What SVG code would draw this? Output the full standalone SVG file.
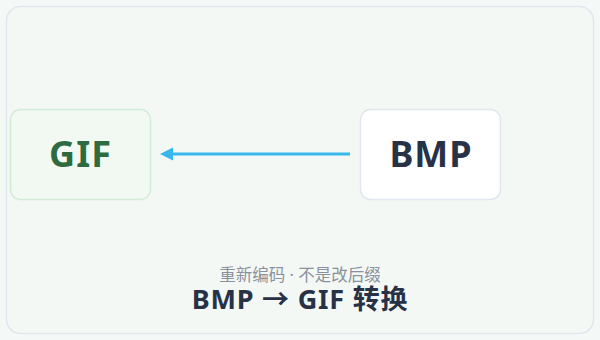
<svg xmlns="http://www.w3.org/2000/svg" width="600" height="340" viewBox="0 0 600 340">
<style>
.lbl{font-family:"Noto Sans","Noto Sans CJK SC",sans-serif;font-weight:700;font-size:36px;letter-spacing:1px;text-anchor:middle}
.sub{font-family:"Noto Sans","Noto Sans CJK SC",sans-serif;font-size:16.5px;fill:#8a919e;text-anchor:middle}
.title{font-family:"Noto Sans","Noto Sans CJK SC",sans-serif;font-weight:700;font-size:27px;letter-spacing:0.8px;fill:#283247;text-anchor:middle}
</style>
<defs>
<marker id="ah" viewBox="0 0 10 10" refX="1" refY="5" markerWidth="4.5" markerHeight="4.5" orient="auto-start-reverse" markerUnits="strokeWidth">
<path d="M0,0 L10,5 L0,10 z" fill="#38b6ee"/>
</marker>
</defs>
<rect x="0" y="0" width="600" height="340" fill="#f4f8f6"/>
<rect x="6.5" y="6.5" width="587" height="327" rx="14" fill="#f4f8f5" stroke="#e2e6ee" stroke-width="1.5"/>
<g id="connectors">
<line x1="350" y1="154" x2="172" y2="154" stroke="#38b6ee" stroke-width="3" marker-end="url(#ah)"/>
</g>
<g id="gif">
<rect x="10.5" y="109.5" width="140" height="90" rx="10" fill="#f1f9f2" stroke="#d3ecd7" stroke-width="1.5"/>
<text class="lbl" x="80.5" y="167" fill="#2e6b40">GIF</text>
</g>
<g id="bmp">
<rect x="360.5" y="109.5" width="140" height="90" rx="10" fill="#ffffff" stroke="#e2e6ee" stroke-width="1.5"/>
<text class="lbl" x="431" y="167" fill="#283247">BMP</text>
</g>
<g id="caption">
<text class="sub" x="300" y="281">重新编码 · 不是改后缀</text>
<text class="title" x="300" y="309">BMP → GIF 转换</text>
</g>
</svg>
